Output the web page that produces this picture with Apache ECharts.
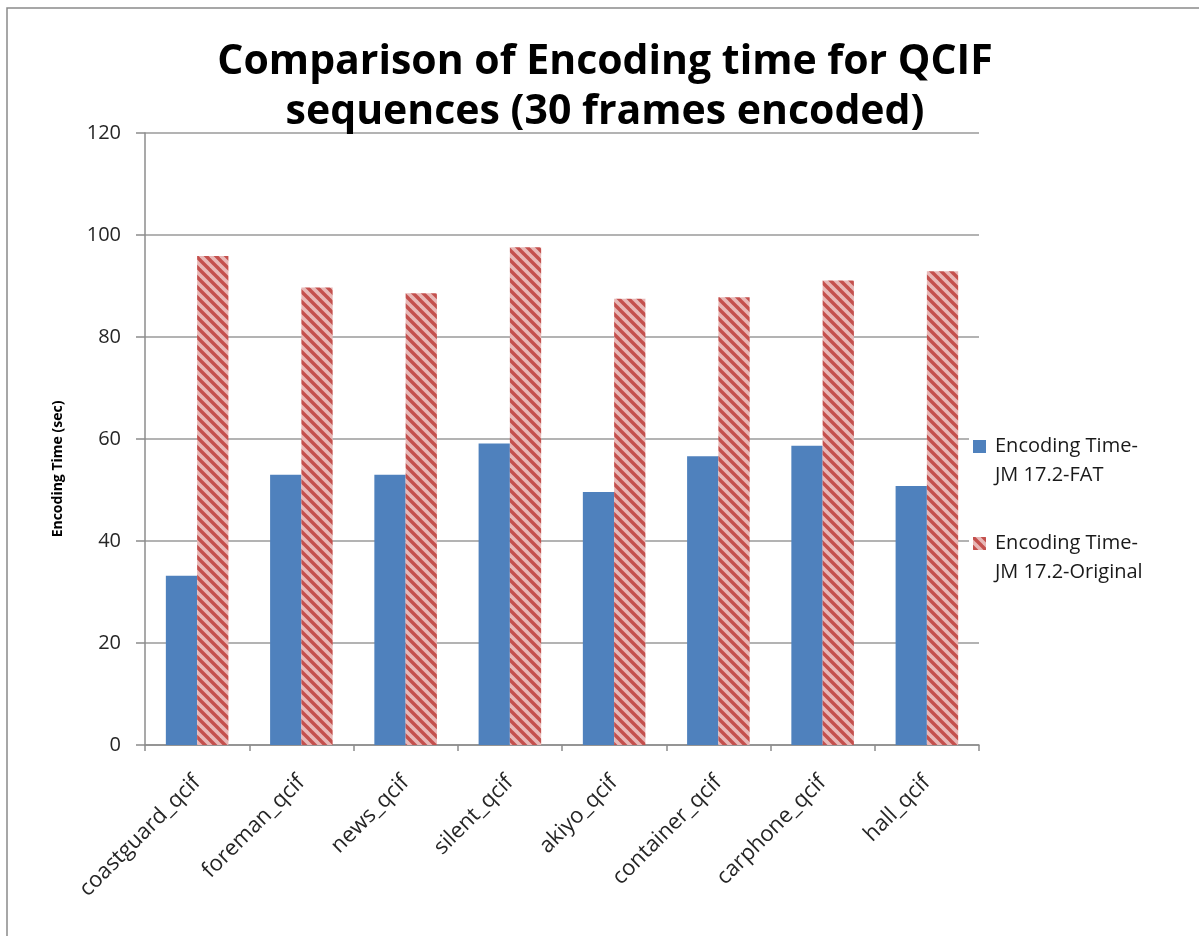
<!DOCTYPE html>
<html>
<head>
<meta charset="utf-8">
<title>Comparison of Encoding time for QCIF sequences</title>
<script src="https://cdn.jsdelivr.net/npm/echarts@6/dist/echarts.min.js"></script>
<style>
  html, body { margin: 0; padding: 0; background: #fff; }
  #chart { width: 1199px; height: 936px; }
</style>
</head>
<body>
<div id="chart"></div>
<script>
// Test sequences (QCIF, 30 frames each)
const categories = ['coastguard_qcif', 'foreman_qcif', 'news_qcif', 'silent_qcif',
                    'akiyo_qcif', 'container_qcif', 'carphone_qcif', 'hall_qcif'];

// Encoding time in seconds
const fatTimes = [33.2, 53.0, 53.0, 59.1, 49.6, 56.6, 58.7, 50.8];
const originalTimes = [95.9, 89.7, 88.6, 97.6, 87.5, 87.8, 91.1, 92.9];

const seriesNames = ['Encoding Time-\nJM 17.2-FAT', 'Encoding Time-\nJM 17.2-Original'];
const yTicks = { min: 0, max: 120, interval: 20 };

const FONT = "'Open Sans', 'Liberation Sans', sans-serif";

// Pink fill with wide downward-diagonal red stripes
function stripePattern() {
  const size = 10;
  const c = document.createElement('canvas');
  c.width = size; c.height = size;
  const ctx = c.getContext('2d');
  ctx.fillStyle = '#e8b7b6';
  ctx.fillRect(0, 0, size, size);
  ctx.strokeStyle = '#c4504d';
  ctx.lineWidth = 3.4;
  for (let k = -1; k <= 1; k++) {
    ctx.beginPath();
    ctx.moveTo(k * size - 3, -3);
    ctx.lineTo(k * size + size + 3, size + 3);
    ctx.stroke();
  }
  return { image: c, repeat: 'repeat' };
}

const chart = echarts.init(document.getElementById('chart'), null, { renderer: 'canvas' });

chart.setOption({
  backgroundColor: '#ffffff',
  animation: false,
  title: {
    text: 'Comparison of Encoding time for QCIF\nsequences (30 frames encoded)',
    left: 605,
    textAlign: 'center',
    top: 37,
    padding: 0,
    textStyle: {
      fontFamily: FONT,
      fontSize: 41,
      fontWeight: 'bold',
      color: '#000',
      lineHeight: 50
    }
  },
  graphic: [{
    type: 'rect',
    shape: { x: 7, y: 8, width: 1400, height: 1200 },
    style: { fill: 'none', stroke: '#8a8a8a', lineWidth: 1.5 },
    silent: true,
    z: 100
  }],
  legend: {
    orient: 'vertical',
    left: 969,
    top: 403,
    padding: [0, 0, 0, 4],
    backgroundColor: '#ffffff',
    itemWidth: 13,
    itemHeight: 13,
    itemGap: 10,
    icon: 'rect',
    data: seriesNames,
    // leading blank line keeps the swatch level with the first text line
    formatter: name => '\n' + name,
    textStyle: {
      fontFamily: FONT,
      fontSize: 20,
      color: '#1a1a1a',
      lineHeight: 29,
      padding: [0, 0, 0, 4]
    }
  },
  grid: {
    left: 145,
    right: 220,
    top: 133,
    bottom: 191,
    containLabel: false
  },
  xAxis: {
    type: 'category',
    data: categories,
    axisLine: { show: true, lineStyle: { color: '#8c8c8c', width: 1.5 } },
    axisTick: { show: true, length: 6, lineStyle: { color: '#8c8c8c', width: 1.5 } },
    axisLabel: {
      rotate: 45,
      margin: 34,
      interval: 0,
      fontFamily: FONT,
      fontSize: 22,
      color: '#262626'
    },
    splitLine: { show: false }
  },
  yAxis: {
    type: 'value',
    min: yTicks.min,
    max: yTicks.max,
    interval: yTicks.interval,
    name: 'Encoding Time (sec)',
    nameLocation: 'middle',
    nameGap: 80,
    nameTextStyle: {
      fontFamily: FONT,
      fontSize: 14,
      fontWeight: 'bold',
      color: '#000',
      padding: [0, 60, 0, 0]
    },
    axisLine: { show: true, lineStyle: { color: '#8c8c8c', width: 1.5 } },
    axisTick: { show: true, inside: false, length: 9, lineStyle: { color: '#8c8c8c', width: 1.5 } },
    axisLabel: {
      margin: 24,
      fontFamily: FONT,
      fontSize: 20,
      color: '#262626'
    },
    splitLine: { show: true, lineStyle: { color: '#9a9a9a', width: 1.5 } }
  },
  series: [
    {
      name: seriesNames[0],
      type: 'bar',
      data: fatTimes,
      barGap: '0%',
      barCategoryGap: '40%',
      itemStyle: { color: '#4f81bd' }
    },
    {
      name: seriesNames[1],
      type: 'bar',
      data: originalTimes,
      barGap: '0%',
      barCategoryGap: '40%',
      itemStyle: { color: stripePattern() }
    }
  ]
});
</script>
</body>
</html>
